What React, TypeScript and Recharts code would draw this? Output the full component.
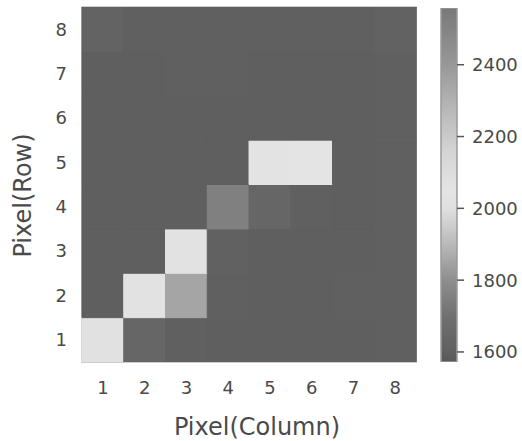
import React from "react";
import {
  BarChart,
  Bar,
  Cell,
  XAxis,
  YAxis,
  ReferenceArea,
} from "recharts";

// heat values per row (row 1 = bottom), one entry per column 1..8
const columns = ["1", "2", "3", "4", "5", "6", "7", "8"];
const row1 = [2010, 1640, 1600, 1598, 1598, 1598, 1598, 1600];
const row2 = [1598, 2030, 1853, 1600, 1598, 1598, 1600, 1602];
const row3 = [1598, 1598, 2025, 1608, 1598, 1598, 1598, 1600];
const row4 = [1598, 1598, 1598, 1753, 1640, 1600, 1598, 1600];
const row5 = [1598, 1598, 1598, 1598, 2040, 2045, 1598, 1600];
const row6 = [1598, 1598, 1598, 1598, 1598, 1598, 1598, 1600];
const row7 = [1598, 1598, 1600, 1600, 1598, 1598, 1598, 1600];
const row8 = [1618, 1602, 1602, 1600, 1600, 1602, 1600, 1614];
const rows = [row1, row2, row3, row4, row5, row6, row7, row8];

const rowTicks = [0.5, 1.5, 2.5, 3.5, 4.5, 5.5, 6.5, 7.5];
const cbMin = 1572;
const cbMax = 2558;
const cbTicks = [1600, 1800, 2000, 2200, 2400];

// gray colormap: dark -> light -> mid gray
const cmapStops: [number, number][] = [
  [1572, 88],
  [1600, 96],
  [1700, 112],
  [1800, 142],
  [1900, 185],
  [2000, 224],
  [2050, 228],
  [2150, 214],
  [2250, 190],
  [2400, 152],
  [2558, 120],
];

function grayAt(v: number): string {
  let g = cmapStops[0][1];
  if (v >= cmapStops[cmapStops.length - 1][0]) {
    g = cmapStops[cmapStops.length - 1][1];
  } else {
    for (let i = 0; i < cmapStops.length - 1; i++) {
      const [v0, g0] = cmapStops[i];
      const [v1, g1] = cmapStops[i + 1];
      if (v >= v0 && v <= v1) {
        g = g0 + ((v - v0) / (v1 - v0)) * (g1 - g0);
        break;
      }
    }
  }
  const h = Math.round(g).toString(16).padStart(2, "0");
  return `#${h}${h}${h}`;
}

const heatData = columns.map((c) => {
  const d: Record<string, string | number> = { col: c };
  rows.forEach((_, k) => {
    d[`r${k + 1}`] = 1;
  });
  return d;
});

const cbData = [{ name: "cb", range: [cbMin, cbMax] }];

const FONT = "'DejaVu Sans', sans-serif";
const TEXT = "#4a4a4a";

export default function App() {
  // stops top (max) to bottom (min), offsets must ascend
  const gradStops = [...cmapStops].reverse();
  return (
    <div
      style={{
        position: "absolute",
        left: 0,
        top: 0,
        width: 522,
        height: 441,
        background: "#fff",
        fontFamily: FONT,
      }}
    >
      {/* gradient for the colorbar */}
      <svg width={0} height={0} style={{ position: "absolute" }}>
        <defs>
          <linearGradient id="cbGrad" x1="0" y1="0" x2="0" y2="1">
            {gradStops.map(([v], i) => (
              <stop
                key={i}
                offset={`${((cbMax - v) / (cbMax - cbMin)) * 100}%`}
                stopColor={grayAt(v)}
              />
            ))}
          </linearGradient>
        </defs>
      </svg>

      <div style={{ position: "absolute", left: 0, top: 0 }}>
        <BarChart
          width={430}
          height={441}
          data={heatData}
          margin={{ top: 7, right: 14, left: 0, bottom: 0 }}
          barCategoryGap={0}
          barGap={0}
        >
          <XAxis
            dataKey="col"
            interval={0}
            tickLine={false}
            axisLine={false}
            tickSize={0}
            tickMargin={19}
            height={79}
            tick={{ fontSize: 18, fill: TEXT, fontFamily: FONT }}
            label={{
              content: (p: any) => {
                const vb = p.viewBox;
                return (
                  <text
                    x={vb.x + vb.width / 2 + 8}
                    y={vb.y + vb.height - 6}
                    textAnchor="middle"
                    fontSize={24}
                    fill={TEXT}
                    fontFamily={FONT}
                  >
                    Pixel(Column)
                  </text>
                );
              },
            }}
          />
          <YAxis
            type="number"
            domain={[0, 8]}
            ticks={rowTicks}
            allowDataOverflow
            tickFormatter={(v: number) => String(v + 0.5)}
            width={82}
            tickLine={false}
            axisLine={false}
            tickSize={0}
            tickMargin={15}
            tick={{ fontSize: 18, fill: TEXT, fontFamily: FONT }}
            label={{
              content: (p: any) => {
                const vb = p.viewBox;
                const x = vb.x + 23;
                const y = vb.y + vb.height / 2 + 11;
                return (
                  <text
                    x={x}
                    y={y}
                    transform={`rotate(-90 ${x} ${y})`}
                    textAnchor="middle"
                    dominantBaseline="central"
                    fontSize={24}
                    fill={TEXT}
                    fontFamily={FONT}
                  >
                    Pixel(Row)
                  </text>
                );
              },
            }}
          />
          {rows.map((vals, k) => (
            <Bar
              key={k}
              dataKey={`r${k + 1}`}
              stackId="heat"
              isAnimationActive={false}
            >
              {vals.map((v, i) => (
                <Cell key={i} fill={grayAt(v)} stroke={grayAt(v)} strokeWidth={1} />
              ))}
            </Bar>
          ))}
          <ReferenceArea
            y1={0}
            y2={8}
            fill="none"
            stroke="#bdbdbd"
            strokeWidth={1.5}
            ifOverflow="visible"
          />
        </BarChart>
      </div>

      <div style={{ position: "absolute", left: 420, top: 0 }}>
        <BarChart
          width={102}
          height={441}
          data={cbData}
          margin={{ top: 8, right: 0, left: 21, bottom: 79 }}
          barCategoryGap={0}
        >
          <XAxis dataKey="name" hide />
          <YAxis
            orientation="right"
            type="number"
            domain={[cbMin, cbMax]}
            ticks={cbTicks}
            allowDataOverflow
            width={65}
            axisLine={false}
            tickSize={7}
            tickMargin={8}
            tickLine={{ stroke: "#555", strokeWidth: 1.5 }}
            tick={{ fontSize: 18, fill: TEXT, fontFamily: FONT }}
          />
          <Bar
            dataKey="range"
            fill="url(#cbGrad)"
            stroke="#9a9a9a"
            strokeWidth={1.5}
            isAnimationActive={false}
          />
        </BarChart>
      </div>
    </div>
  );
}
